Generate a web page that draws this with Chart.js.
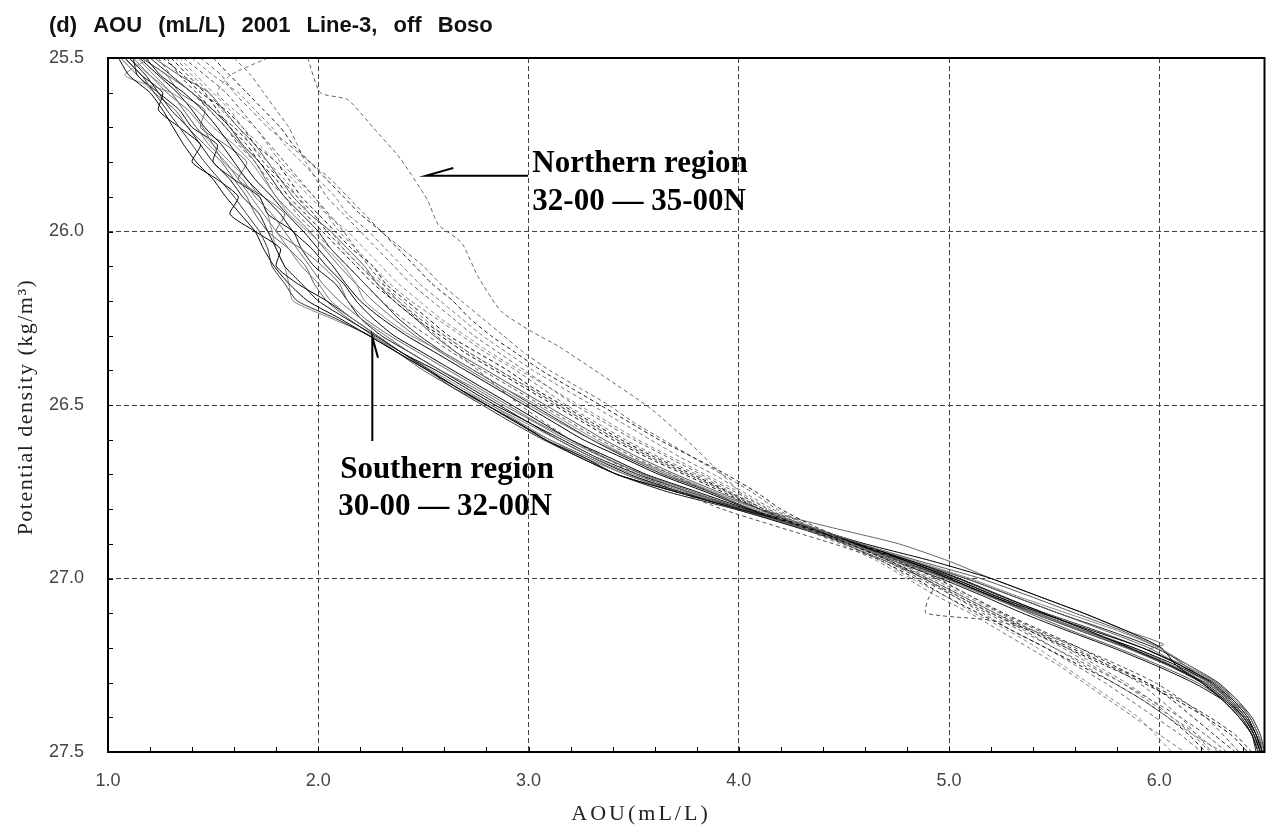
<!DOCTYPE html>
<html>
<head>
<meta charset="utf-8">
<title>AOU 2001 Line-3, off Boso</title>
<script src="https://cdn.jsdelivr.net/npm/chart.js"></script>
<style>
  html, body { margin: 0; padding: 0; background: #fff; }
  #wrap { width: 1270px; height: 832px; }
</style>
</head>
<body>
<div id="wrap"><canvas id="aouChart" width="1270" height="832"></canvas></div>
<script>
// Potential density levels shared by most profiles (kg/m3)
const sigma = [25.50,25.55,25.60,25.65,25.70,25.75,25.80,25.85,25.90,25.95,
               26.00,26.05,26.10,26.15,26.20,26.25,26.30,26.35,26.40,26.45,
               26.50,26.55,26.60,26.65,26.70,26.75,26.80,26.85,26.90,26.95,
               27.00,27.05,27.10,27.15,27.20,27.25,27.30,27.35,27.40,27.45,27.50];

// Southern region (30-00 - 32-00N), AOU mL/L at each sigma level
const south1 = [1.05,1.10,1.20,1.26,1.31,1.36,1.42,1.50,1.56,1.63,
                1.70,1.74,1.79,1.86,1.95,2.10,2.24,2.38,2.52,2.66,
                2.80,2.95,3.08,3.26,3.42,3.70,4.00,4.32,4.57,4.82,
                5.05,5.25,5.45,5.66,5.86,6.05,6.21,6.32,6.40,6.45,6.48];
const south2 = [1.12,1.20,1.28,1.38,1.45,1.50,1.55,1.64,1.70,1.78,
                1.84,1.90,1.96,2.02,2.10,2.20,2.32,2.44,2.58,2.74,
                2.88,3.03,3.18,3.35,3.55,3.78,4.02,4.28,4.53,4.76,
                4.98,5.18,5.40,5.62,5.84,6.04,6.22,6.34,6.41,6.45,6.47];
const south3 = [1.18,1.25,1.36,1.45,1.52,1.58,1.64,1.70,1.78,1.85,
                1.93,2.00,2.07,2.13,2.20,2.30,2.42,2.56,2.70,2.84,
                2.98,3.12,3.26,3.44,3.62,3.84,4.05,4.30,4.55,4.80,
                5.02,5.22,5.44,5.68,5.92,6.10,6.25,6.35,6.42,6.46,6.49];
const south4 = [1.20,1.08,1.30,1.42,1.50,1.60,1.68,1.74,1.80,1.86,
                1.95,2.04,2.12,2.18,2.22,2.32,2.44,2.60,2.74,2.88,
                3.04,3.18,3.32,3.48,3.68,3.88,4.08,4.33,4.58,4.84,
                5.10,5.32,5.56,5.80,6.00,6.14,6.27,6.36,6.43,6.47,6.50];
const south5 = [1.10,1.18,1.24,1.30,1.38,1.44,1.50,1.58,1.64,1.72,
                1.76,1.80,1.84,1.92,2.00,2.13,2.27,2.40,2.53,2.66,
                2.80,2.94,3.08,3.24,3.42,3.66,3.98,4.26,4.52,4.74,
                4.96,5.16,5.35,5.56,5.78,5.98,6.16,6.30,6.38,6.44,6.47];
const south6 = [1.22,1.34,1.48,1.55,1.62,1.70,1.76,1.82,1.88,1.96,
                2.06,2.14,2.22,2.28,2.36,2.46,2.55,2.66,2.80,2.94,
                3.08,3.22,3.36,3.52,3.70,3.90,4.10,4.34,4.58,4.86,
                5.15,5.38,5.60,5.82,6.00,6.12,6.24,6.33,6.40,6.45,6.48];
const south7 = [1.15,1.24,1.33,1.40,1.46,1.54,1.60,1.66,1.74,1.82,
                1.88,1.97,2.04,2.12,2.18,2.26,2.36,2.50,2.64,2.78,
                2.92,3.06,3.20,3.38,3.56,3.80,4.04,4.32,4.60,4.92,
                5.20,5.42,5.64,5.84,6.01,6.08,6.20,6.30,6.38,6.44,6.47];
const south8 = [1.14,1.22,1.30,1.36,1.42,1.48,1.56,1.62,1.68,1.74,
                1.80,1.86,1.92,2.00,2.06,2.16,2.28,2.40,2.52,2.66,
                2.82,2.98,3.14,3.30,3.50,3.74,4.00,4.27,4.52,4.78,
                5.02,5.22,5.42,5.64,5.86,6.06,6.24,6.35,6.42,6.46,6.48];
const south9 = [1.08,1.16,1.22,1.28,1.34,1.40,1.46,1.53,1.60,1.66,
                1.72,1.76,1.78,1.84,1.90,2.08,2.24,2.38,2.52,2.64,
                2.78,2.92,3.07,3.24,3.42,3.70,4.00,4.28,4.54,4.80,
                5.04,5.24,5.46,5.70,5.92,6.10,6.26,6.36,6.43,6.47,6.49];
const south11 = [1.08,1.16,1.26,1.24,1.34,1.44,1.40,1.52,1.62,1.58,
                 1.70,1.82,1.80,1.90,2.04,2.16,2.28,2.40,2.56,2.70,
                 2.84,3.00,3.14,3.30,3.48,3.72,4.02,4.30,4.56,4.80,
                 5.00,5.20,5.42,5.64,5.88,6.08,6.24,6.34,6.41,6.46,6.48];
const south12 = [1.16,1.28,1.34,1.46,1.44,1.56,1.66,1.62,1.74,1.84,
                 1.80,1.92,2.02,2.10,2.14,2.22,2.34,2.48,2.62,2.76,
                 2.90,3.04,3.20,3.36,3.54,3.76,4.03,4.31,4.56,4.82,
                 5.08,5.30,5.52,5.74,5.95,6.10,6.23,6.33,6.41,6.46,6.49];
const south13 = [1.12,1.14,1.24,1.34,1.40,1.52,1.50,1.60,1.72,1.76,
                 1.88,1.92,1.98,2.08,2.14,2.20,2.30,2.44,2.58,2.72,
                 2.86,3.00,3.16,3.32,3.52,3.76,4.02,4.29,4.54,4.78,
                 5.00,5.20,5.40,5.62,5.85,6.04,6.20,6.31,6.39,6.44,6.46];
const south14 = [1.10,1.20,1.30,1.36,1.42,1.50,1.58,1.66,1.72,1.76,
                 1.78,1.80,1.84,1.86,1.88,2.06,2.25,2.40,2.54,2.68,
                 2.82,2.96,3.10,3.26,3.46,3.72,4.01,4.29,4.55,4.79,
                 5.02,5.22,5.44,5.66,5.88,6.06,6.22,6.33,6.41,6.46,6.49];
const south15 = [1.20,1.30,1.40,1.50,1.58,1.64,1.72,1.78,1.84,1.92,
                 2.00,2.06,2.14,2.22,2.30,2.38,2.48,2.60,2.74,2.88,
                 3.02,3.16,3.30,3.46,3.64,3.86,4.06,4.31,4.56,4.82,
                 5.08,5.30,5.52,5.76,5.98,6.14,6.28,6.37,6.44,6.48,6.50];
const south16 = [1.06,1.14,1.22,1.32,1.38,1.46,1.54,1.60,1.66,1.70,
                 1.76,1.86,1.94,1.98,2.04,2.14,2.26,2.38,2.50,2.64,
                 2.80,2.94,3.10,3.28,3.46,3.70,4.00,4.27,4.53,4.77,
                 4.99,5.19,5.38,5.58,5.80,6.00,6.18,6.31,6.40,6.45,6.48];
// profile with the hook near 27.2
const sigmaSouth10 = [25.50,25.60,25.70,25.80,25.90,26.00,26.10,26.20,26.30,26.40,
                      26.50,26.60,26.70,26.80,26.85,26.90,26.95,27.00,27.05,27.10,
                      27.15,27.19,27.205,27.25,27.30,27.35,27.40,27.45,27.50];
const south10 = [1.16,1.40,1.56,1.70,1.80,1.96,2.10,2.26,2.46,2.72,
                 3.00,3.30,3.66,4.10,4.42,4.76,5.00,5.20,5.42,5.64,
                 5.84,6.02,5.95,6.12,6.27,6.37,6.43,6.47,6.50];

// Northern region (32-00 - 35-00N)
const north3 = [1.76,1.58,1.52,1.60,1.70,1.76,1.82,1.90,1.98,2.04,
                2.10,2.18,2.26,2.34,2.44,2.56,2.68,2.80,2.94,3.06,
                3.18,3.32,3.46,3.62,3.80,3.96,4.12,4.30,4.52,4.74,
                4.92,5.08,5.24,5.40,5.56,5.70,5.84,5.96,6.06,6.16,6.24];
const north4 = [1.60,1.68,1.74,1.80,1.86,1.90,1.94,1.99,2.04,2.12,
                2.20,2.28,2.36,2.44,2.54,2.64,2.74,2.86,2.98,3.10,
                3.22,3.36,3.50,3.66,3.82,3.98,4.14,4.32,4.50,4.70,
                4.88,5.04,5.20,5.36,5.50,5.64,5.78,5.92,6.04,6.16,6.30];
const north5 = [1.30,1.38,1.46,1.52,1.58,1.66,1.72,1.80,1.86,1.94,
                2.02,2.10,2.18,2.26,2.36,2.46,2.58,2.70,2.84,2.98,
                3.12,3.26,3.40,3.56,3.74,3.92,4.10,4.30,4.52,4.72,
                4.88,5.04,5.20,5.38,5.56,5.74,5.92,6.08,6.22,6.34,6.42];
const north6 = [1.40,1.50,1.62,1.70,1.78,1.84,1.92,2.00,2.08,2.14,
                2.24,2.32,2.40,2.48,2.58,2.68,2.78,2.90,3.02,3.16,
                3.30,3.44,3.58,3.72,3.88,4.02,4.16,4.34,4.54,4.74,
                4.90,5.06,5.22,5.38,5.54,5.68,5.82,5.94,6.06,6.18,6.28];
const north7 = [1.24,1.30,1.40,1.48,1.56,1.62,1.70,1.76,1.84,1.90,
                1.98,2.06,2.14,2.22,2.30,2.40,2.52,2.64,2.78,2.92,
                3.06,3.20,3.34,3.50,3.68,3.86,4.06,4.28,4.50,4.70,
                4.86,5.02,5.18,5.34,5.50,5.66,5.82,5.96,6.10,6.22,6.32];
const north8 = [1.50,1.58,1.66,1.74,1.82,1.88,1.96,2.04,2.12,2.20,
                2.30,2.38,2.46,2.54,2.64,2.72,2.82,2.94,3.06,3.20,
                3.34,3.48,3.62,3.78,3.94,4.08,4.20,4.36,4.56,4.76,
                4.94,5.10,5.26,5.44,5.62,5.78,5.94,6.06,6.16,6.26,6.36];
const north9 = [1.34,1.42,1.50,1.58,1.64,1.72,1.80,1.88,1.96,2.04,
                2.14,2.22,2.30,2.38,2.48,2.58,2.70,2.82,2.96,3.10,
                3.24,3.38,3.52,3.68,3.84,4.00,4.14,4.30,4.50,4.68,
                4.82,4.98,5.12,5.28,5.42,5.54,5.66,5.78,5.90,5.98,6.06];
const north10 = [1.26,1.36,1.44,1.56,1.64,1.70,1.80,1.86,1.92,2.00,
                 2.08,2.16,2.26,2.32,2.42,2.52,2.62,2.76,2.90,3.02,
                 3.16,3.30,3.44,3.60,3.78,3.95,4.12,4.30,4.50,4.68,
                 4.84,4.98,5.14,5.30,5.46,5.62,5.78,5.92,6.04,6.14,6.22];
const north11 = [1.44,1.54,1.60,1.68,1.76,1.86,1.96,2.06,2.14,2.22,
                 2.30,2.40,2.50,2.58,2.68,2.78,2.88,2.98,3.10,3.24,
                 3.38,3.50,3.64,3.78,3.92,4.06,4.18,4.34,4.54,4.72,
                 4.88,5.02,5.16,5.30,5.46,5.60,5.74,5.86,5.98,6.10,6.20];
const north12 = [1.32,1.40,1.48,1.54,1.62,1.68,1.76,1.84,1.90,1.96,
                 2.06,2.12,2.20,2.30,2.40,2.50,2.60,2.72,2.86,3.00,
                 3.14,3.28,3.42,3.58,3.76,3.94,4.10,4.28,4.48,4.66,
                 4.80,4.94,5.10,5.24,5.38,5.52,5.64,5.76,5.88,6.00,6.12];
const north13 = [1.28,1.34,1.42,1.50,1.60,1.68,1.74,1.82,1.90,1.98,
                 2.04,2.12,2.20,2.28,2.38,2.48,2.60,2.72,2.86,3.00,
                 3.14,3.28,3.42,3.58,3.76,3.94,4.10,4.30,4.52,4.72,
                 4.90,5.06,5.22,5.40,5.58,5.76,5.94,6.10,6.24,6.36,6.44];
// outlier profile the "Northern region" arrow points at
const sigmaNorth1 = [25.50,25.60,25.62,25.70,25.79,25.91,25.98,26.02,26.04,26.13,
                     26.23,26.29,26.33,26.41,26.51,26.60,26.70,26.80,26.90,27.00,
                     27.10,27.20,27.30,27.40,27.50];
const north1 = [1.95,2.01,2.14,2.26,2.39,2.52,2.57,2.66,2.69,2.76,
                2.87,3.02,3.14,3.34,3.58,3.75,3.92,4.10,4.58,4.95,
                5.25,5.60,5.90,6.10,6.25];
// profile with the step near 27.1
const sigmaNorth2 = [25.50,25.60,25.70,25.80,25.90,26.00,26.10,26.20,26.30,26.40,
                     26.50,26.60,26.70,26.80,26.90,26.95,27.00,27.02,27.06,27.10,
                     27.12,27.15,27.20,27.30,27.40,27.50];
const north2 = [1.36,1.56,1.70,1.84,1.98,2.12,2.24,2.38,2.56,2.76,
                2.96,3.20,3.52,3.92,4.45,4.70,4.88,4.93,4.90,4.89,
                5.20,5.40,5.62,5.98,6.22,6.38];

// axes
const xTickValues = [1.0, 2.0, 3.0, 4.0, 5.0, 6.0];
const yTickValues = [25.5, 26.0, 26.5, 27.0, 27.5];
const xMinorStep = 0.2;
const yMinorStep = 0.1;

const southRuns = [
    [sigma, south1], [sigma, south2], [sigma, south3], [sigma, south4], [sigma, south5],
    [sigma, south6], [sigma, south7], [sigma, south8], [sigma, south9], [sigmaSouth10, south10],
    [sigma, south11], [sigma, south12], [sigma, south13], [sigma, south14], [sigma, south15],
    [sigma, south16]
];
const northRuns = [
    [sigmaNorth1, north1], [sigmaNorth2, north2], [sigma, north3], [sigma, north4], [sigma, north5],
    [sigma, north6], [sigma, north7], [sigma, north8], [sigma, north9], [sigma, north10],
    [sigma, north11], [sigma, north12], [sigma, north13]
];
const southColors = ['#000', '#666', '#000', '#888', '#111', '#555', '#000', '#777', '#333', '#666',
                     '#000', '#666', '#111', '#888', '#222', '#555'];
const northColors = ['#666', '#555', '#777', '#666', '#111', '#777', '#555', '#222', '#888', '#111',
                     '#666', '#777', '#333'];

const profile = (sig, aou, color, dashed) => ({
    data: sig.map((s, i) => ({ x: aou[i], y: s })),
    borderColor: color,
    borderWidth: 1,
    borderDash: dashed ? [4, 3] : [],
    pointRadius: 0,
    showLine: true,
    fill: false,
    tension: 0.2
});

const datasets = [];
northRuns.forEach((r, i) => datasets.push(profile(r[0], r[1], northColors[i], true)));
southRuns.forEach((r, i) => datasets.push(profile(r[0], r[1], southColors[i], false)));

// frame, inner minor ticks, annotations and titles
const decor = {
    id: 'decor',
    afterDraw(chart) {
        const { ctx, chartArea: a, scales: { x, y } } = chart;
        const px = v => x.getPixelForValue(v);
        const py = v => y.getPixelForValue(v);
        ctx.save();

        ctx.strokeStyle = '#000';
        ctx.lineWidth = 2;
        ctx.setLineDash([]);
        ctx.strokeRect(a.left, a.top, a.right - a.left, a.bottom - a.top);

        ctx.lineWidth = 1;
        ctx.beginPath();
        for (let v = x.min + xMinorStep; v < x.max - 1e-6; v += xMinorStep) {
            const p = Math.round(px(v)) + 0.5;
            ctx.moveTo(p, a.bottom);
            ctx.lineTo(p, a.bottom - 5);
        }
        for (let v = y.min + yMinorStep; v < y.max - 1e-6; v += yMinorStep) {
            const p = Math.round(py(v)) + 0.5;
            ctx.moveTo(a.left, p);
            ctx.lineTo(a.left + 5, p);
        }
        ctx.stroke();

        // arrows
        ctx.lineWidth = 2;
        ctx.beginPath();
        ctx.moveTo(px(2.998), py(25.839));
        ctx.lineTo(px(2.513), py(25.839));
        ctx.lineTo(px(2.642), py(25.817));
        ctx.moveTo(px(2.257), py(26.604));
        ctx.lineTo(px(2.257), py(26.304));
        ctx.lineTo(px(2.284), py(26.364));
        ctx.stroke();

        ctx.fillStyle = '#000';
        ctx.textAlign = 'left';
        ctx.textBaseline = 'alphabetic';
        ctx.font = 'bold 31px "Liberation Serif"';
        ctx.fillText('Northern region', px(3.018), py(25.828));
        ctx.fillText('32-00 \u2014 35-00N', px(3.018), py(25.937));
        ctx.fillText('Southern region', px(2.104), py(26.711));
        ctx.fillText('30-00 \u2014 32-00N', px(2.095), py(26.817));

        // chart title
        ctx.font = 'bold 22px "Liberation Sans"';
        ctx.fillStyle = '#111';
        ctx.wordSpacing = '10px';
        ctx.fillText('(d) AOU (mL/L) 2001 Line-3, off Boso', 49, 32);
        ctx.wordSpacing = '0px';

        // axis titles
        ctx.fillStyle = '#222';
        ctx.font = '22px "Liberation Serif"';
        ctx.letterSpacing = '3px';
        ctx.textAlign = 'center';
        ctx.fillText('AOU(mL/L)', 641, 820);
        ctx.letterSpacing = '1.5px';
        ctx.translate(26, 407);
        ctx.rotate(-Math.PI / 2);
        ctx.textBaseline = 'middle';
        ctx.fillText('Potential density (kg/m\u00b3)', 0, 0);
        ctx.letterSpacing = '0px';

        ctx.restore();
    }
};

new Chart(document.getElementById('aouChart'), {
    type: 'scatter',
    data: { datasets },
    options: {
        responsive: false,
        devicePixelRatio: 1,
        animation: false,
        layout: { padding: { left: 0, right: 5.5, top: 58, bottom: 0 } },
        plugins: { legend: { display: false }, tooltip: { enabled: false } },
        scales: {
            x: {
                type: 'linear',
                min: 1.0,
                max: 6.5,
                afterBuildTicks: s => { s.ticks = xTickValues.map(v => ({ value: v })); },
                afterFit: s => { s.height = 80; },
                grid: { color: '#444', lineWidth: 1, drawTicks: false },
                border: { display: false, dash: [5, 3] },
                ticks: {
                    padding: 18,
                    color: '#444',
                    font: { family: '"Liberation Sans"', size: 18 },
                    callback: v => Number(v).toFixed(1)
                }
            },
            y: {
                type: 'linear',
                reverse: true,
                min: 25.5,
                max: 27.5,
                afterBuildTicks: s => { s.ticks = yTickValues.map(v => ({ value: v })); },
                afterFit: s => { s.width = 108; },
                grid: { color: '#444', lineWidth: 1, drawTicks: false },
                border: { display: false, dash: [5, 3] },
                ticks: {
                    padding: 24,
                    color: '#444',
                    font: { family: '"Liberation Sans"', size: 18 },
                    callback: v => Number(v).toFixed(1)
                }
            }
        }
    },
    plugins: [decor]
});
</script>
</body>
</html>
